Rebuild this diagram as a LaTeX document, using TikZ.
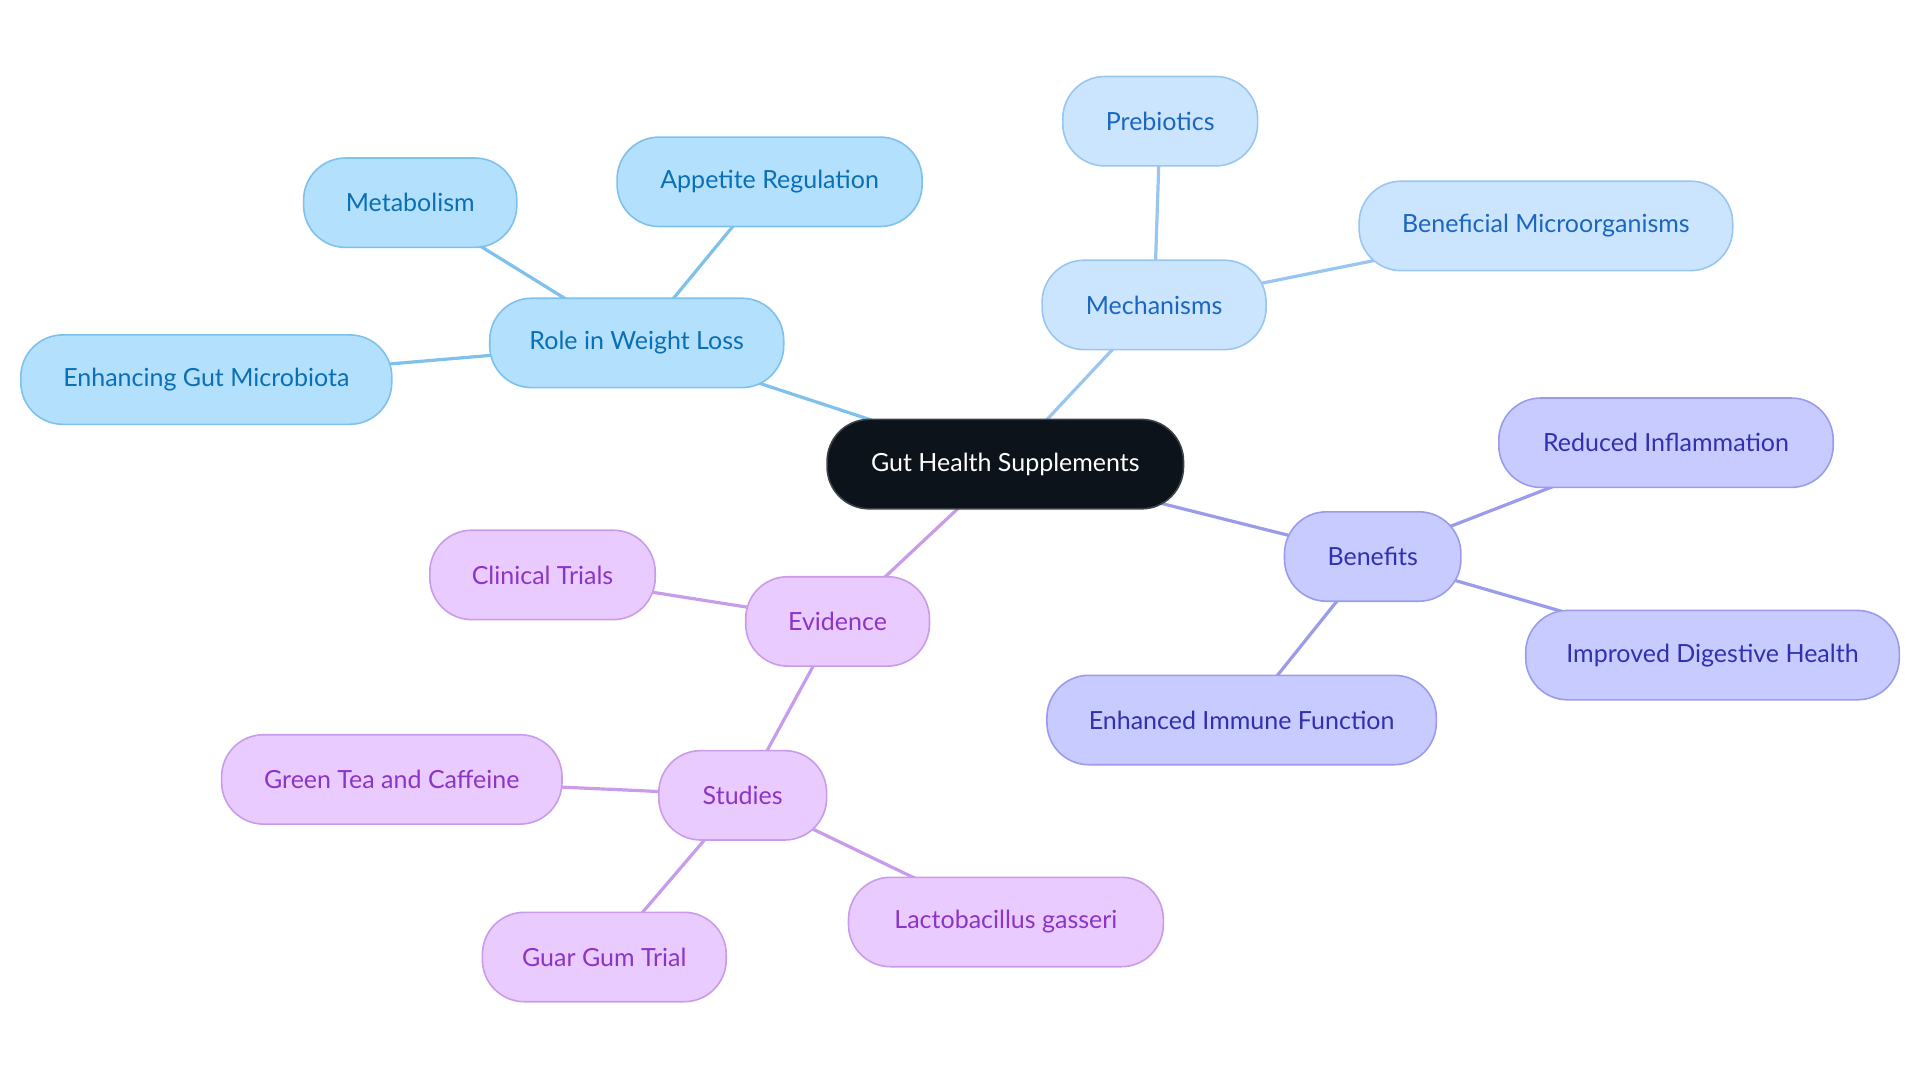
\documentclass[tikz,border=0pt]{standalone}
\usepackage{fontspec}
\setmainfont{Lato}
\usetikzlibrary{backgrounds}
\definecolor{wlFill}{HTML}{B3E0FD}
\definecolor{wlDraw}{HTML}{7DC1EC}
\definecolor{wlText}{HTML}{0B6FB5}
\definecolor{mcFill}{HTML}{CCE5FF}
\definecolor{mcDraw}{HTML}{99C6F0}
\definecolor{mcText}{HTML}{1A66C0}
\definecolor{bnFill}{HTML}{C8CBFF}
\definecolor{bnDraw}{HTML}{9A9CEB}
\definecolor{bnText}{HTML}{3030B0}
\definecolor{evFill}{HTML}{EACBFF}
\definecolor{evDraw}{HTML}{C99BEB}
\definecolor{evText}{HTML}{8A35C8}
\definecolor{rootFill}{HTML}{0D131A}
\tikzset{
  pill/.style={rectangle, rounded corners=21pt, minimum height=44.7pt, inner xsep=15pt, inner ysep=0pt, line width=0.8pt, font=\fontsize{12.5pt}{14pt}\selectfont},
  rootbox/.style={pill, fill=rootFill, draw=rootFill!80!white, text=white},
  wlbox/.style={pill, fill=wlFill, draw=wlDraw, text=wlText},
  mcbox/.style={pill, fill=mcFill, draw=mcDraw, text=mcText},
  bnbox/.style={pill, fill=bnFill, draw=bnDraw, text=bnText},
  evbox/.style={pill, fill=evFill, draw=evDraw, text=evText},
  wlline/.style={draw=wlDraw, line width=1.6pt},
  mcline/.style={draw=mcDraw, line width=1.6pt},
  bnline/.style={draw=bnDraw, line width=1.6pt},
  evline/.style={draw=evDraw, line width=1.6pt},
}
\begin{document}
\begin{tikzpicture}[x=0.5pt, y=-0.5pt]
\useasboundingbox (0,0) rectangle (1920,1083);
\node[rootbox, minimum width=178.2pt] (root) at (1005.3,464.1) {Gut Health Supplements};
\node[wlbox, minimum width=147pt] (role) at (636.7,342.9) {Role in Weight Loss};
\node[wlbox, minimum width=106.6pt] (meta) at (410.2,202.7) {Metabolism};
\node[wlbox, minimum width=152.5pt] (appe) at (769.6,181.8) {Appetite Regulation};
\node[wlbox, minimum width=185.5pt] (enha) at (206.3,379.6) {Enhancing Gut Microbiota};
\node[mcbox, minimum width=112pt] (mech) at (1154.1,304.9) {Mechanisms};
\node[mcbox, minimum width=97.4pt] (preb) at (1160.2,121.2) {Prebiotics};
\node[mcbox, minimum width=186.8pt] (bene) at (1545.9,225.9) {Beneficial Microorganisms};
\node[bnbox, minimum width=88.2pt] (benf) at (1372.7,556.5) {Benefits};
\node[bnbox, minimum width=167.2pt] (redu) at (1666,442.7) {Reduced Inflammation};
\node[bnbox, minimum width=186.8pt] (impr) at (1712.5,655.1) {Improved Digestive Health};
\node[bnbox, minimum width=194.7pt] (immu) at (1241.6,720) {Enhanced Immune Function};
\node[evbox, minimum width=91.9pt] (evid) at (837.6,621.4) {Evidence};
\node[evbox, minimum width=112.7pt] (clin) at (542.5,574.9) {Clinical Trials};
\node[evbox, minimum width=83.9pt] (stud) at (742.7,795.3) {Studies};
\node[evbox, minimum width=170.2pt] (gree) at (391.8,779.4) {Green Tea and Caffeine};
\node[evbox, minimum width=121.9pt] (guar) at (604.3,957) {Guar Gum Trial};
\node[evbox, minimum width=157.4pt] (lact) at (1005.9,922) {Lactobacillus gasseri};
\begin{pgfonlayer}{background}
\draw[wlline] (root.center) -- (role.center);
\draw[wlline] (role.center) -- (meta.center);
\draw[wlline] (role.center) -- (appe.center);
\draw[wlline] (role.center) -- (enha.center);
\draw[mcline] (root.center) -- (mech.center);
\draw[mcline] (mech.center) -- (preb.center);
\draw[mcline] (mech.center) -- (bene.center);
\draw[bnline] (root.center) -- (benf.center);
\draw[bnline] (benf.center) -- (redu.center);
\draw[bnline] (benf.center) -- (impr.center);
\draw[bnline] (benf.center) -- (immu.center);
\draw[evline] (root.center) -- (evid.center);
\draw[evline] (evid.center) -- (clin.center);
\draw[evline] (evid.center) -- (stud.center);
\draw[evline] (stud.center) -- (gree.center);
\draw[evline] (stud.center) -- (guar.center);
\draw[evline] (stud.center) -- (lact.center);
\end{pgfonlayer}
\end{tikzpicture}
\end{document}
